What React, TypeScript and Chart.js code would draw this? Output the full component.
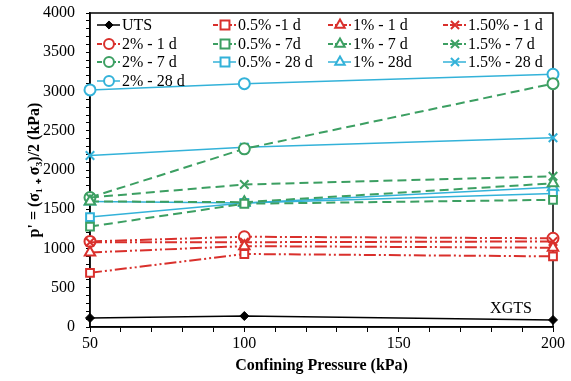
import React, { useEffect, useRef } from "react";
import { Chart, registerables } from "chart.js";

Chart.register(...registerables);

const pressures = [50, 100, 200];

const uts = [115, 140, 90];
const p05_1d = [690, 930, 900];
const p1_1d = [950, 1030, 1010];
const p15_1d = [1080, 1080, 1090];
const p2_1d = [1090, 1150, 1130];
const p05_7d = [1280, 1570, 1620];
const p1_7d = [1600, 1590, 1830];
const p15_7d = [1650, 1815, 1920];
const p2_7d = [1650, 2270, 3100];
const p05_28d = [1400, 1580, 1700];
const p1_28d = [1600, 1580, 1780];
const p15_28d = [2185, 2290, 2410];
const p2_28d = [3020, 3100, 3220];

const RED = "#d9302c";
const GREEN = "#3c9f62";
const CYAN = "#33b2d9";
const BLACK = "#000000";

const redDash = [12, 3, 2, 3, 2, 3];
const greenDash = [9, 5];

type S = { label: string; data: number[]; color: string; dash: number[]; style: string; width: number; radius: number };

// legend (row-major, 4 columns) order
const series: S[] = [
  { label: "UTS", data: uts, color: BLACK, dash: [], style: "rectRot", width: 1.5, radius: 4.5 },
  { label: "0.5% -1 d", data: p05_1d, color: RED, dash: redDash, style: "rect", width: 2, radius: 5.5 },
  { label: "1% - 1 d", data: p1_1d, color: RED, dash: redDash, style: "triangle", width: 2, radius: 6 },
  { label: "1.50% - 1 d", data: p15_1d, color: RED, dash: redDash, style: "crossRot", width: 2, radius: 6 },
  { label: "2% - 1 d", data: p2_1d, color: RED, dash: redDash, style: "circle", width: 2, radius: 5.5 },
  { label: "0.5% - 7d", data: p05_7d, color: GREEN, dash: greenDash, style: "rect", width: 2, radius: 5.5 },
  { label: "1% - 7 d", data: p1_7d, color: GREEN, dash: greenDash, style: "triangle", width: 2, radius: 6 },
  { label: "1.5% - 7 d", data: p15_7d, color: GREEN, dash: greenDash, style: "crossRot", width: 2, radius: 6 },
  { label: "2% - 7 d", data: p2_7d, color: GREEN, dash: greenDash, style: "circle", width: 2, radius: 5.5 },
  { label: "0.5% - 28 d", data: p05_28d, color: CYAN, dash: [], style: "rect", width: 1.5, radius: 5.5 },
  { label: "1% - 28d", data: p1_28d, color: CYAN, dash: [], style: "triangle", width: 1.5, radius: 6 },
  { label: "1.5% - 28 d", data: p15_28d, color: CYAN, dash: [], style: "crossRot", width: 1.5, radius: 6 },
  { label: "2% - 28 d", data: p2_28d, color: CYAN, dash: [], style: "circle", width: 1.5, radius: 5.5 },
];

const FONT = "'Liberation Serif', 'Times New Roman', serif";

const AREA = { left: 90, right: 553, top: 13, bottom: 327 };

function drawMarker(ctx: CanvasRenderingContext2D, style: string, x: number, y: number, r: number, color: string, fill: string, lw: number) {
  ctx.save();
  ctx.setLineDash([]);
  ctx.strokeStyle = color;
  ctx.fillStyle = fill;
  ctx.lineWidth = lw;
  ctx.beginPath();
  if (style === "circle") {
    ctx.arc(x, y, r, 0, Math.PI * 2);
    ctx.fill();
    ctx.stroke();
  } else if (style === "rect") {
    const s = r * 0.9;
    ctx.rect(x - s, y - s, 2 * s, 2 * s);
    ctx.fill();
    ctx.stroke();
  } else if (style === "triangle") {
    ctx.moveTo(x, y - r);
    ctx.lineTo(x + r * 0.87, y + r * 0.5);
    ctx.lineTo(x - r * 0.87, y + r * 0.5);
    ctx.closePath();
    ctx.fill();
    ctx.stroke();
  } else if (style === "crossRot") {
    const s = r * 0.75;
    ctx.moveTo(x - s, y - s);
    ctx.lineTo(x + s, y + s);
    ctx.moveTo(x + s, y - s);
    ctx.lineTo(x - s, y + s);
    ctx.stroke();
  } else if (style === "rectRot") {
    ctx.moveTo(x, y - r);
    ctx.lineTo(x + r, y);
    ctx.lineTo(x, y + r);
    ctx.lineTo(x - r, y);
    ctx.closePath();
    ctx.fill();
    ctx.stroke();
  }
  ctx.restore();
}

const legendCols = [97, 213, 328, 443];
const legendRows = [25, 44, 62, 81];

const areaPlugin = {
  id: "fixArea",
  afterLayout(chart: any) {
    const ca = chart.chartArea;
    ca.left = AREA.left; ca.right = AREA.right; ca.top = AREA.top; ca.bottom = AREA.bottom;
    ca.width = AREA.right - AREA.left; ca.height = AREA.bottom - AREA.top;
    const x = chart.scales.x;
    const y = chart.scales.y;
    x.left = AREA.left; x.right = AREA.right; x.width = AREA.right - AREA.left;
    x.top = AREA.bottom; x.bottom = chart.height; x.height = chart.height - AREA.bottom;
    y.left = 0; y.right = AREA.left; y.width = AREA.left;
    y.top = AREA.top; y.bottom = AREA.bottom; y.height = AREA.bottom - AREA.top;
    x.configure();
    y.configure();
  },
};

const framePlugin = {
  id: "frame",
  beforeDatasetsDraw(chart: any) {
    const ctx: CanvasRenderingContext2D = chart.ctx;
    const a = chart.chartArea;
    ctx.save();
    ctx.strokeStyle = "#000";
    ctx.lineWidth = 1.5;
    ctx.setLineDash([]);
    ctx.strokeRect(a.left, a.top, a.right - a.left, a.bottom - a.top);
    ctx.restore();
  },
};

const overlayPlugin = {
  id: "overlay",
  afterDatasetsDraw(chart: any) {
    const ctx: CanvasRenderingContext2D = chart.ctx;
    ctx.save();
    ctx.fillStyle = "#000";
    ctx.font = `16px ${FONT}`;
    ctx.textAlign = "center";
    ctx.textBaseline = "middle";
    ctx.fillText("XGTS", 511, 309);
    ctx.textAlign = "left";
    series.forEach((s, i) => {
      const col = i % 4;
      const row = Math.floor(i / 4);
      const x0 = legendCols[col];
      const y = legendRows[row];
      ctx.save();
      ctx.strokeStyle = s.color;
      ctx.lineWidth = s.width;
      ctx.setLineDash(s.dash.length ? [5, 2] : []);
      ctx.beginPath();
      ctx.moveTo(x0, y);
      ctx.lineTo(x0 + 23, y);
      ctx.stroke();
      ctx.restore();
      drawMarker(ctx, s.style, x0 + 12, y, s.radius * 0.9, s.color, s.style === "rectRot" ? BLACK : "#fff", s.style === "rectRot" ? 1 : 2);
      ctx.fillStyle = "#000";
      ctx.fillText(s.label, x0 + 25, y + 1);
    });
    ctx.restore();
  },
};

export default function App() {
  const ref = useRef<HTMLCanvasElement>(null);
  useEffect(() => {
    const chart = new Chart(ref.current!, {
      type: "line",
      data: {
        datasets: series.map((s) => ({
          label: s.label,
          data: pressures.map((p, i) => ({ x: p, y: s.data[i] })),
          borderColor: s.color,
          backgroundColor: s.style === "rectRot" ? BLACK : "#fff",
          borderWidth: s.width,
          borderDash: s.dash,
          pointStyle: s.style as any,
          pointRadius: s.radius,
          pointBorderWidth: s.style === "rectRot" ? 1 : 2,
          pointBorderColor: s.color,
          pointBackgroundColor: s.style === "rectRot" ? BLACK : "#fff",
          fill: false,
          tension: 0,
          clip: false as any,
        })),
      },
      options: {
        animation: false,
        responsive: true,
        maintainAspectRatio: false,
        layout: { padding: { top: 12, right: 18, left: 0, bottom: 0 } },
        plugins: { legend: { display: false }, tooltip: { enabled: false } },
        scales: {
          x: {
            type: "linear",
            min: 50,
            max: 200,
            ticks: {
              stepSize: 10,
              autoSkip: false,
              maxRotation: 0,
              padding: 2,
              color: "#000",
              font: { family: FONT, size: 16 },
              callback: (v: any) => (Number(v) % 50 === 0 ? String(v) : ""),
            },
            grid: { drawOnChartArea: false, tickLength: 5, color: "#000" },
            border: { color: "#000", width: 1.5 },
            title: {
              display: true,
              text: "Confining Pressure (kPa)",
              color: "#000",
              font: { family: FONT, size: 16, weight: "bold" },
              padding: { top: 2, bottom: 6 },
            },
          },
          y: {
            min: 0,
            max: 4000,
            ticks: {
              stepSize: 100,
              autoSkip: false,
              padding: 11,
              color: "#000",
              font: { family: FONT, size: 16 },
              callback: (v: any) => (Number(v) % 500 === 0 ? String(v) : ""),
            },
            grid: { drawOnChartArea: false, tickLength: 4, color: "#000" },
            border: { color: "#000", width: 1.5 },
            title: {
              display: true,
              text: "p' = (σ₁ ₊ σ₃)/2 (kPa)",
              color: "#000",
              font: { family: FONT, size: 16, weight: "bold" },
              padding: { top: 25, bottom: 0 },
            },
          },
        },
      },
      plugins: [areaPlugin, framePlugin, overlayPlugin],
    });
    return () => chart.destroy();
  }, []);
  return (
    <div style={{ position: "fixed", left: 0, top: 0, width: 571, height: 381, background: "#fff" }}>
      <canvas ref={ref} />
    </div>
  );
}
